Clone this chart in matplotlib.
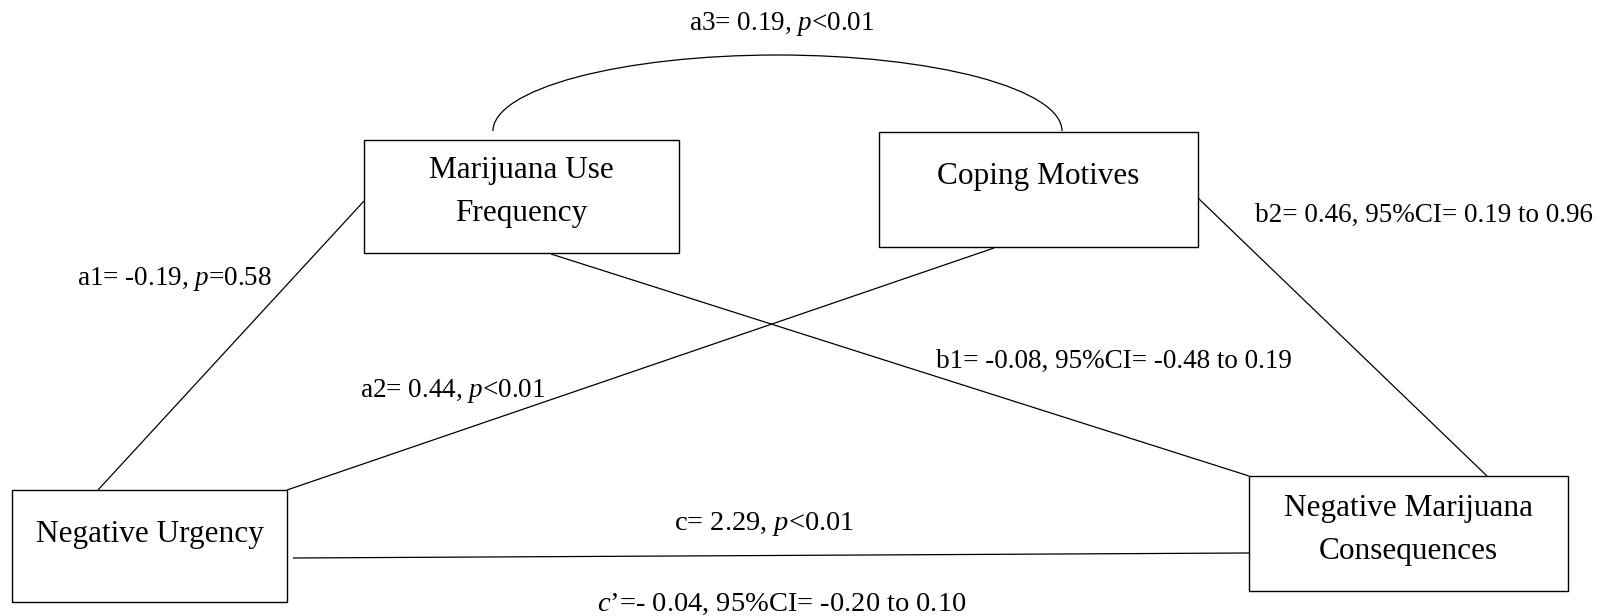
import matplotlib
matplotlib.use("Agg")
import matplotlib.pyplot as plt
from matplotlib.patches import Rectangle, Arc

plt.rcParams['font.family'] = ['Liberation Serif', 'DejaVu Serif']
plt.rcParams['mathtext.fontset'] = 'custom'
plt.rcParams['mathtext.rm'] = 'Liberation Serif'
plt.rcParams['mathtext.it'] = 'Liberation Serif:italic'

# node names and path estimates
nodes = ["Marijuana Use\nFrequency", "Coping Motives",
         "Negative Urgency", "Negative Marijuana\nConsequences"]
paths = ["a1", "a2", "a3", "b1", "b2", "c", "c'"]
path_labels = ["a1= -0.19, $p$=0.58",
               "a2= 0.44, $p$<0.01",
               "a3= 0.19, $p$<0.01",
               "b1= -0.08, 95%CI= -0.48 to 0.19",
               "b2= 0.46, 95%CI= 0.19 to 0.96",
               "c= 2.29, $p$<0.01",
               "$c\u2019$=- 0.04, 95%CI= -0.20 to 0.10"]

# layout in pixels (x0, y0, x1, y1), first-line baseline
box_pos = {
    "Marijuana Use\nFrequency": (364, 140, 679, 253, 178),
    "Coping Motives": (879, 132, 1198, 247, 184),
    "Negative Urgency": (12, 490, 287, 602, 542),
    "Negative Marijuana\nConsequences": (1249, 476, 1568, 591, 516),
}
line_gap = 42.5
line_pos = {
    "a1": ((98, 490), (364, 201)),
    "a2": ((287, 490), (994, 248)),
    "b1": ((551, 254), (1249, 476)),
    "b2": ((1198, 198), (1487, 476)),
    "c": ((293, 558), (1249, 553)),
}
label_pos = {
    "a1": (175, 285, 19.5), "a2": (453, 397, 19.5), "a3": (782, 30, 19.5),
    "b1": (1114, 368, 19.5), "b2": (1424, 222, 19.5),
    "c": (764, 530, 20.5), "c'": (782, 611, 20.5),
}

fig = plt.figure(figsize=(16.04, 6.16), dpi=100)
ax = fig.add_axes([0, 0, 1, 1])
ax.set_xlim(0, 1604)
ax.set_ylim(616, 0)
ax.axis('off')

for name in nodes:
    x0, y0, x1, y1, base = box_pos[name]
    ax.add_patch(Rectangle((x0, y0), x1 - x0, y1 - y0, fill=False,
                           edgecolor='black', linewidth=1.0))
    for i, ln in enumerate(name.split("\n")):
        ax.text((x0 + x1) / 2, base + i * line_gap, ln, ha='center',
                va='baseline', fontsize=22.5, color='black')

for key, (p0, p1) in line_pos.items():
    ax.plot([p0[0], p1[0]], [p0[1], p1[1]], color='black', lw=0.9,
            solid_capstyle='butt')

# covariance arc between the two mediators
ax.add_patch(Arc((777.5, 131), 569, 152, theta1=180, theta2=360,
                 color='black', lw=0.9))

for key, lab in zip(paths, path_labels):
    x, y, fs = label_pos[key]
    ax.text(x, y, lab, ha='center', va='baseline', fontsize=fs,
            color='black')

fig.savefig("out.png", dpi=100)
